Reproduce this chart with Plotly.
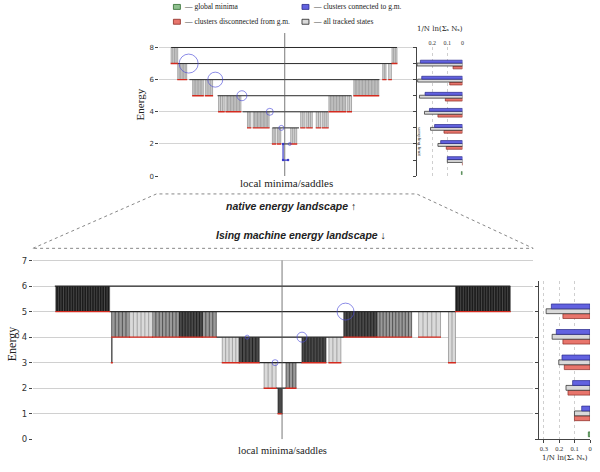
import plotly.graph_objects as go
import numpy as np

W, H = 600, 472
def px(x): return x / W
def py(y): return 1 - y / H

SERIF = "Liberation Serif, DejaVu Serif, serif"
SANS = "DejaVu Sans, sans-serif"

# ---------------- native (top) landscape data ----------------
top_level_E  = [8, 7, 6, 5, 4, 3, 2]
top_level_x0 = [11.7, 18.3, 30.0, 58.3, 83.3, 113.3, 123.3]
top_level_x1 = [238.3, 233.3, 220.7, 192.7, 169.3, 140.0, 131.7]

top_stem_x0   = [11.7, 233.3, 18.3, 224.0, 230.0, 33.3, 46.0, 195.0, 59.3, 66.7, 170.0, 188.3, 88.3, 94.0, 141.7, 147.7, 157.3, 163.3, 113.3, 118.3, 131.7]
top_stem_x1   = [18.3, 238.3, 27.3, 227.3, 232.7, 44.0, 53.3, 220.0, 65.0, 81.7, 186.7, 192.7, 91.7, 110.0, 146.0, 153.3, 161.7, 169.3, 116.7, 121.7, 137.7]
top_stem_Etop = [8, 8, 7, 7, 7, 6, 6, 6, 5, 5, 5, 5, 4, 4, 4, 4, 4, 4, 3, 3, 3]
top_stem_Ebot = [7, 7, 6, 6, 6, 5, 5, 5, 4, 4, 4, 4, 3, 3, 3, 3, 3, 3, 2, 2, 2]
top_stem_n    = [5, 4, 7, 3, 2, 8, 5, 18, 4, 11, 12, 3, 3, 12, 3, 4, 3, 4, 3, 3, 4]

top_gm_x = [124.0, 124.0, 129.0]
top_gm_E = [2.0, 1.0, 1.0]

top_circle_x    = [29.3, 56.0, 82.7, 110.7, 122.3, 130.7]
top_circle_E    = [7, 6, 5, 4, 3, 2]
top_circle_size = [19, 15, 10, 7, 5, 3]
top_center_x = 125.7

top_bar_E     = [7, 6, 5, 4, 3, 2, 1]
top_bar_blue  = [0.278, 0.269, 0.247, 0.218, 0.184, 0.144, 0.100]
top_bar_gray  = [0.300, 0.296, 0.284, 0.251, 0.211, 0.162, 0.100]
top_bar_red   = [0.062, 0.084, 0.113, 0.162, 0.122, 0.107, 0.000]
top_bar_green_E = [0]
top_bar_green   = [0.007]

# ---------------- Ising machine (bottom) landscape data ----------------
bot_level_E  = [6, 5, 4, 3, 2]
bot_level_x0 = [22.0, 77.0, 184.0, 227.0, 244.0]
bot_level_x1 = [479.0, 424.0, 312.0, 270.0, 254.0]

bot_stem_x0    = [23, 424, 79, 97, 120, 147, 170, 78.7, 190, 207, 232, 254, 246, 270, 297, 312, 345, 387, 417]
bot_stem_x1    = [77, 479, 97, 120, 147, 170, 184, 79.7, 207, 227, 244, 264, 250, 294, 309, 345, 380, 409, 424]
bot_stem_Etop  = [6, 6, 5, 5, 5, 5, 5, 4, 4, 4, 3, 3, 2, 4, 4, 5, 5, 5, 5]
bot_stem_Ebot  = [5, 5, 4, 4, 4, 4, 4, 3, 3, 3, 2, 2, 1, 3, 3, 4, 4, 4, 3]
bot_stem_n     = [22, 22, 6, 7, 9, 9, 5, 1, 6, 7, 4, 4, 2, 9, 4, 12, 12, 6, 3]
bot_stem_shade = ["k", "k", "m", "l", "m", "d", "m", "k", "l", "d", "l", "m", "d", "d", "l", "d", "m", "l", "l"]

bot_circle_x    = [313.7, 270.0, 243.0, 215.0]
bot_circle_E    = [5, 4, 3, 4]
bot_circle_size = [17, 10, 6, 4]
bot_center_x = 250.0

bot_bar_E    = [5, 4, 3, 2, 1]
bot_bar_blue = [0.251, 0.219, 0.182, 0.113, 0.054]
bot_bar_gray = [0.285, 0.246, 0.203, 0.156, 0.101]
bot_bar_red  = [0.176, 0.176, 0.167, 0.143, 0.101]
bot_bar_green_E = [0]
bot_bar_green   = [0.011]

# ---------------- styles ----------------
SHADES = {
    "t": ("#d6d6d6", "#8c8c8c"),
    "k": ("#1c1c1c", "#5a5a5a"),
    "d": ("#4a4a4a", "#111111"),
    "m": ("#9a9a9a", "#333333"),
    "l": ("#dadada", "#8a8a8a"),
}
BLUE_F, BLUE_E = "#6262e0", "#2a2a8a"
RED_F, RED_E = "#e8756c", "#8a2a22"
GRAY_F, GRAY_E = "#d9d9d9", "#222222"
GREEN_F, GREEN_E = "#8fc08f", "#2d6a2d"

fig = go.Figure()

def add_landscape(xa, ya, lvE, lvx0, lvx1, sx0, sx1, sEt, sEb, sn, sshade,
                  cx, cE, csize, center_x, center_top, lw_level):
    groups = {}
    for i in range(len(sx0)):
        groups.setdefault(sshade[i], []).append(i)
    for sh, idx in groups.items():
        fillc, linec = SHADES[sh]
        rx, ry, lx, ly = [], [], [], []
        for i in idx:
            rx += [sx0[i], sx1[i], sx1[i], sx0[i], sx0[i], None]
            ry += [sEb[i], sEb[i], sEt[i], sEt[i], sEb[i], None]
            xs = np.linspace(sx0[i], sx1[i], sn[i]) if sn[i] > 1 else [0.5 * (sx0[i] + sx1[i])]
            for x in xs:
                lx += [x, x, None]
                ly += [sEb[i], sEt[i], None]
        fig.add_trace(go.Scatter(x=rx, y=ry, fill="toself", fillcolor=fillc, mode="lines",
                                 line=dict(width=0), xaxis=xa, yaxis=ya, showlegend=False,
                                 hoverinfo="skip"))
        fig.add_trace(go.Scatter(x=lx, y=ly, mode="lines", line=dict(color=linec, width=0.7),
                                 xaxis=xa, yaxis=ya, showlegend=False, hoverinfo="skip"))
    hx, hy = [], []
    for e, a, b in zip(lvE, lvx0, lvx1):
        hx += [a, b, None]
        hy += [e, e, None]
    fig.add_trace(go.Scatter(x=hx, y=hy, mode="lines", line=dict(color="#2a2a2a", width=lw_level),
                             xaxis=xa, yaxis=ya, showlegend=False, hoverinfo="skip"))
    qx, qy = [], []
    for i in range(len(sx0)):
        qx += [sx0[i] - 0.5, sx1[i] + 0.5, None]
        qy += [sEb[i], sEb[i], None]
    fig.add_trace(go.Scatter(x=qx, y=qy, mode="lines", line=dict(color="#d42a1e", width=1.4),
                             xaxis=xa, yaxis=ya, showlegend=False, hoverinfo="skip"))
    fig.add_trace(go.Scatter(x=[center_x, center_x], y=[0, center_top], mode="lines",
                             line=dict(color="#555555", width=0.8), xaxis=xa, yaxis=ya,
                             showlegend=False, hoverinfo="skip"))
    fig.add_trace(go.Scatter(x=cx, y=cE, mode="markers",
                             marker=dict(symbol="circle-open", size=csize, color="#4a4ad8",
                                         line=dict(width=0.9)),
                             xaxis=xa, yaxis=ya, showlegend=False, hoverinfo="skip"))

add_landscape("x", "y", top_level_E, top_level_x0, top_level_x1,
              top_stem_x0, top_stem_x1, top_stem_Etop, top_stem_Ebot, top_stem_n,
              ["t"] * len(top_stem_x0), top_circle_x, top_circle_E, top_circle_size,
              top_center_x, 8.9, 1.0)
fig.add_trace(go.Scatter(x=top_gm_x, y=top_gm_E, mode="lines+markers",
                         line=dict(color="#3a3ac8", width=1.2), marker=dict(size=2.5, color="#3a3ac8"),
                         xaxis="x", yaxis="y", showlegend=False, hoverinfo="skip"))

add_landscape("x2", "y2", bot_level_E, bot_level_x0, bot_level_x1,
              bot_stem_x0, bot_stem_x1, bot_stem_Etop, bot_stem_Ebot, bot_stem_n,
              bot_stem_shade, bot_circle_x, bot_circle_E, bot_circle_size,
              bot_center_x, 7.0, 1.3)

def add_bars(xa, ya, E, red, gray, blue, gE, green, offs, width):
    for vals, fc, ec, off in [(red, RED_F, RED_E, offs[2]), (gray, GRAY_F, GRAY_E, offs[1]),
                              (blue, BLUE_F, BLUE_E, offs[0])]:
        fig.add_trace(go.Bar(x=vals, y=E, orientation="h", base=0, width=width, offset=off,
                             marker=dict(color=fc, line=dict(color=ec, width=0.7)),
                             xaxis=xa, yaxis=ya, showlegend=False, hoverinfo="skip"))
    fig.add_trace(go.Bar(x=green, y=gE, orientation="h", base=0, width=width, offset=0.1,
                         marker=dict(color=GREEN_F, line=dict(color=GREEN_E, width=0.7)),
                         xaxis=xa, yaxis=ya, showlegend=False, hoverinfo="skip"))

add_bars("x3", "y3", top_bar_E, top_bar_red, top_bar_gray, top_bar_blue,
         top_bar_green_E, top_bar_green, [0.03, -0.15, -0.33], 0.18)
add_bars("x4", "y4", bot_bar_E, bot_bar_red, bot_bar_gray, bot_bar_blue,
         bot_bar_green_E, bot_bar_green, [0.11, -0.08, -0.27], 0.19)

axis_off = dict(showgrid=False, zeroline=False, showticklabels=False, ticks="", showline=False)

fig.update_layout(
    width=W, height=H, margin=dict(l=0, r=0, t=0, b=0),
    paper_bgcolor="white", plot_bgcolor="white", barmode="overlay",
    xaxis=dict(domain=[px(160), px(416)], range=[0, 256], anchor="y", **axis_off),
    yaxis=dict(domain=[py(178), py(31.75)], range=[0, 9], anchor="x",
               tickvals=[0, 2, 4, 6, 8], showgrid=True, gridcolor="#d4d4d4", gridwidth=0.8,
               zeroline=False, ticks="outside", ticklen=3, tickcolor="#444",
               tickfont=dict(family=SANS, size=7, color="#333")),
    xaxis2=dict(domain=[px(33), px(535)], range=[0, 502], anchor="y2", **axis_off),
    yaxis2=dict(domain=[py(444), py(253)], range=[0, 7.4], anchor="x2",
                tickvals=[0, 1, 2, 3, 4, 5, 6, 7], showgrid=True, gridcolor="#d0d0d0", gridwidth=0.9,
                zeroline=False, ticks="outside", ticklen=3, tickcolor="#444",
                tickfont=dict(family=SANS, size=8.5, color="#333")),
    xaxis3=dict(domain=[px(418), px(464)], range=[0.303, 0], anchor="y3", side="top",
                tickvals=[0.2, 0.1, 0], ticktext=["0.2", "0.1", "0"], showgrid=True,
                gridcolor="#cfcfcf", griddash="dot", gridwidth=0.7, zeroline=False,
                ticks="", tickfont=dict(family=SERIF, size=6, color="#333")),
    yaxis3=dict(domain=[py(178), py(48)], range=[0, 8], anchor="x3", showticklabels=False,
                showgrid=False, zeroline=False, showline=True, linecolor="#444", linewidth=0.8,
                ticks="outside", ticklen=3, tickcolor="#444", dtick=1),
    xaxis4=dict(domain=[px(541), px(592)], range=[0.33, 0], anchor="y4",
                tickvals=[0.3, 0.2, 0.1, 0], ticktext=["0.3", "0.2", "0.1", "0"], showgrid=True,
                gridcolor="#cfcfcf", griddash="dot", gridwidth=0.7, zeroline=False,
                showline=True, linecolor="#444", linewidth=0.8, ticks="outside", ticklen=3,
                tickcolor="#444", tickfont=dict(family=SERIF, size=6.5, color="#333")),
    yaxis4=dict(domain=[py(444), py(284)], range=[0, 6.2], anchor="x4", showticklabels=False,
                showgrid=False, zeroline=False, showline=True, linecolor="#444", linewidth=0.8,
                ticks="outside", ticklen=3, tickcolor="#444", dtick=1),
)

fig.add_shape(type="path", xref="paper", yref="paper",
              path=f"M {px(33)},{py(251)} L {px(157)},{py(196)} L {px(418)},{py(196)} L {px(535)},{py(251)} Z",
              line=dict(color="#888888", width=1, dash="dot"))

ann = []
def A(x, y, text, size, family=SERIF, color="#222", angle=0, xanchor="center"):
    ann.append(dict(x=px(x), y=py(y), xref="paper", yref="paper", text=text, showarrow=False,
                    font=dict(family=family, size=size, color=color), textangle=angle,
                    xanchor=xanchor, yanchor="middle"))

A(140, 106, "Energy", 11, angle=-90)
A(12, 348, "Energy", 12, angle=-90)
A(287, 185, "local minima/saddles", 11)
A(283, 455, "local minima/saddles", 10.5)
A(292, 208, "<b><i>native energy landscape ↑</i></b>", 10.5, family="Liberation Sans, Arial, sans-serif")
A(302, 238, "<b><i>Ising machine energy landscape ↓</i></b>", 10.5, family="Liberation Sans, Arial, sans-serif")
A(441, 29, "1/N ln(Σₛ Nₛ)", 7, family="DejaVu Serif, serif")
A(567, 463, "1/N ln(Σₛ Nₛ)", 7, family="DejaVu Serif, serif")
A(421, 143, "sampling limit", 5, angle=90)

legend_items = [(174, 7, GREEN_F, GREEN_E, "— global minima"),
                (174, 22, RED_F, RED_E, "— clusters disconnected from g.m."),
                (303, 7, BLUE_F, BLUE_E, "— clusters connected to g.m."),
                (303, 22, GRAY_F, GRAY_E, "— all tracked states")]
for x, y, fc, ec, t in legend_items:
    fig.add_shape(type="rect", xref="paper", yref="paper", x0=px(x), x1=px(x + 7),
                  y0=py(y + 2.5), y1=py(y - 2.5), fillcolor=fc, line=dict(color=ec, width=0.8))
    A(x + 9, y, t, 7.5, xanchor="left")

fig.update_layout(annotations=ann)
fig.write_html("out.html", config={"displayModeBar": False},
               post_script="document.body.style.margin='0px';")
